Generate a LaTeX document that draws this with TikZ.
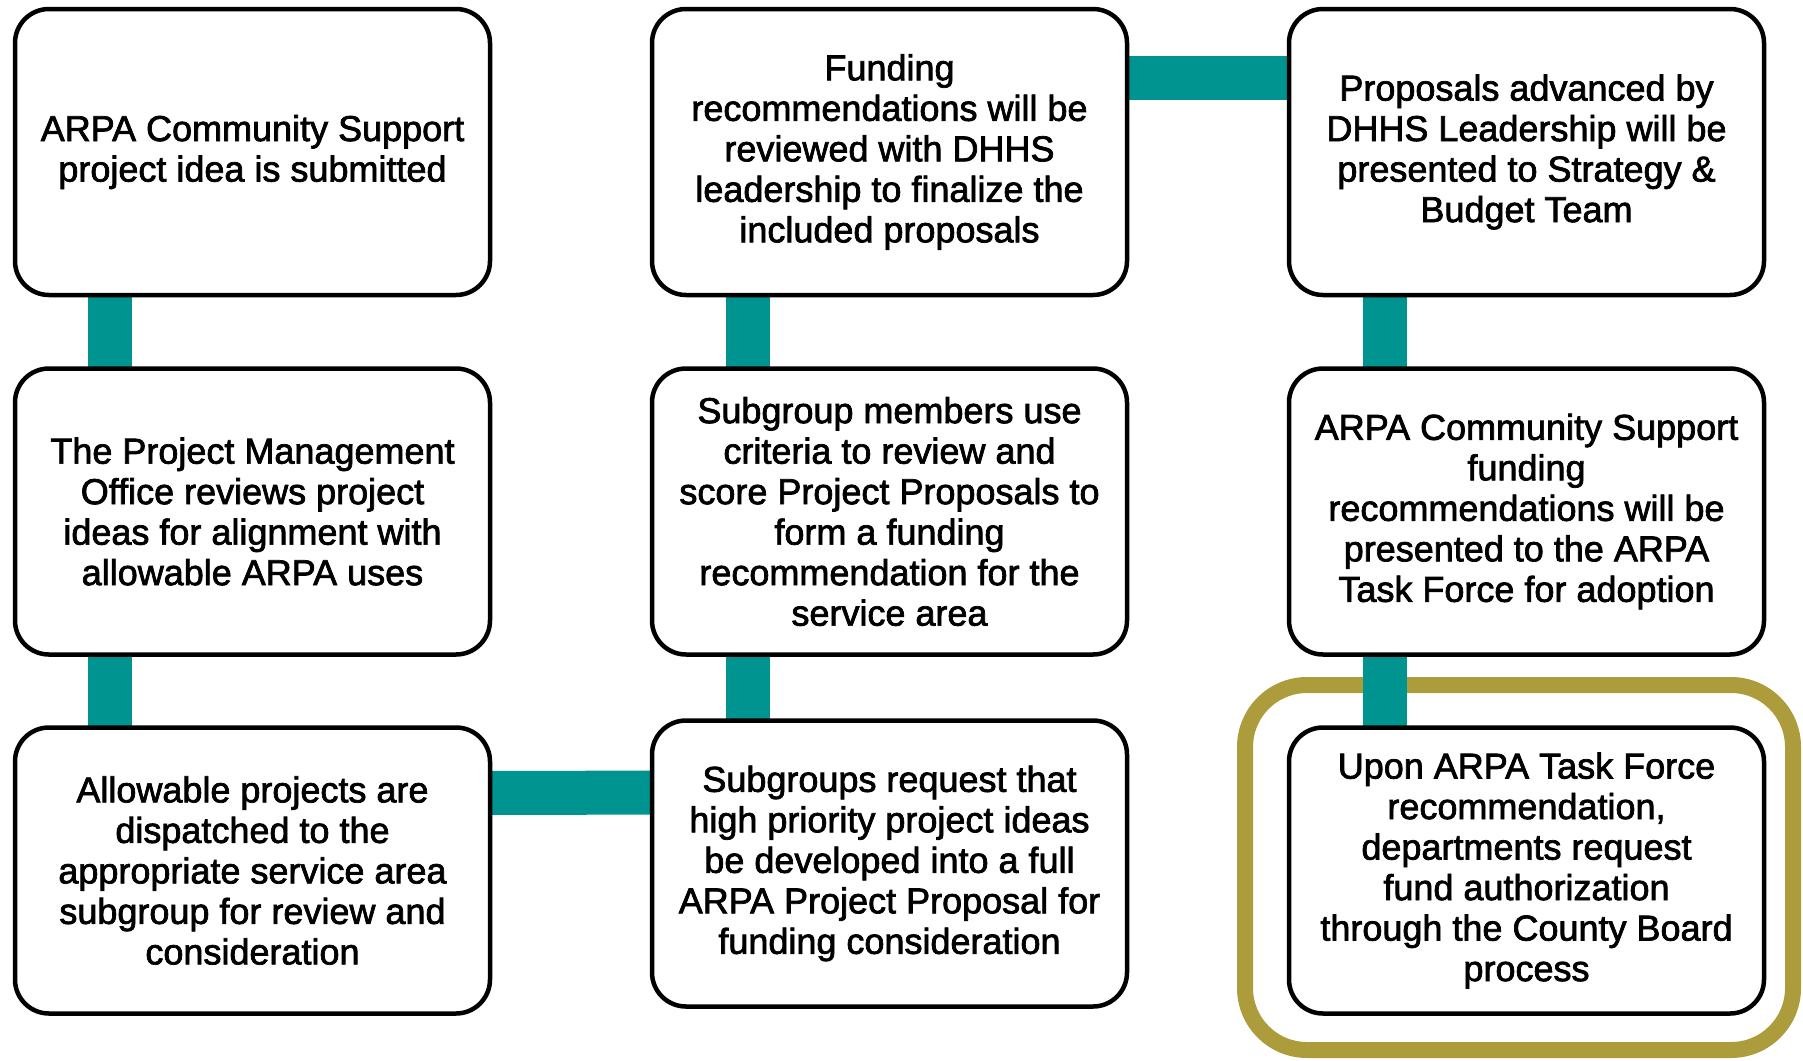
\documentclass[tikz,border=0pt]{standalone}
\usepackage{fontspec}
\setmainfont[FakeBold=2]{Liberation Sans}
\definecolor{teal1}{RGB}{0,148,144}
\definecolor{gold1}{RGB}{172,156,60}
\pgfdeclarelayer{paperlayer}
\pgfdeclarelayer{ringlayer}
\pgfdeclarelayer{barlayer}
\pgfsetlayers{paperlayer,ringlayer,barlayer,main}
\tikzset{
  stepbox/.style={draw=black, fill=white, line width=4.5pt, rounded corners=34pt,
    minimum width=475pt, minimum height=286pt, inner sep=0pt, align=center,
    font=\fontsize{36}{40.5}\selectfont},
  bar/.style={draw=teal1, line width=44pt},
  ring/.style={draw=gold1, line width=16pt, rounded corners=62pt}
}
\begin{document}
\begin{tikzpicture}[x=1pt,y=-1pt]
\useasboundingbox (0,0) rectangle (1803,1060);
\begin{pgfonlayer}{paperlayer}
\fill[white] (0,0) rectangle (1803,1060);
\end{pgfonlayer}
\node[stepbox] (b1) at (252.5,152) {ARPA Community Support\\project idea is submitted};
\node[stepbox] (b2) at (252.5,511.5) {The Project Management\\Office reviews project\\ideas for alignment with\\allowable ARPA uses};
\node[stepbox] (b3) at (252.5,870.5) {Allowable projects are\\dispatched to the\\appropriate service area\\subgroup for review and\\consideration};
\node[stepbox] (b4) at (889.5,152) {Funding\\recommendations will be\\reviewed with DHHS\\leadership to finalize the\\included proposals};
\node[stepbox] (b5) at (889.5,511.5) {Subgroup members use\\criteria to review and\\score Project Proposals to\\form a funding\\recommendation for the\\service area};
\node[stepbox] (b6) at (889.5,863.5) {Subgroups request that\\high priority project ideas\\be developed into a full\\ARPA Project Proposal for\\funding consideration};
\node[stepbox] (b7) at (1526.5,152) {Proposals advanced by\\DHHS Leadership will be\\presented to Strategy \&\\Budget Team};
\node[stepbox] (b8) at (1526.5,511.5) {ARPA Community Support\\funding\\recommendations will be\\presented to the ARPA\\Task Force for adoption};
\node[stepbox] (b9) at (1526.5,870.5) {Upon ARPA Task Force\\recommendation,\\departments request\\fund authorization\\through the County Board\\process};
\begin{pgfonlayer}{ringlayer}
\draw[ring] (1245,685) rectangle (1793,1050);
\end{pgfonlayer}
\begin{pgfonlayer}{barlayer}
\draw[bar] ([xshift=-142.5pt]b1.center) -- ([xshift=-142.5pt]b2.center);
\draw[bar] ([xshift=-142.5pt]b2.center) -- ([xshift=-142.5pt]b3.center);
\draw[bar] ([xshift=-141.5pt]b4.center) -- ([xshift=-141.5pt]b5.center);
\draw[bar] ([xshift=-141.5pt]b5.center) -- ([xshift=-141.5pt]b6.center);
\draw[bar] ([xshift=-141.5pt]b7.center) -- ([xshift=-141.5pt]b8.center);
\draw[bar] ([xshift=-141.5pt]b8.center) -- ([xshift=-141.5pt]b9.center);
\draw[bar] ([yshift=77.5pt]b3.center) -- ([yshift=71pt]b6.center);
\draw[bar] ([yshift=74pt]b4.center) -- ([yshift=74pt]b7.center);
\end{pgfonlayer}
\end{tikzpicture}
\end{document}
